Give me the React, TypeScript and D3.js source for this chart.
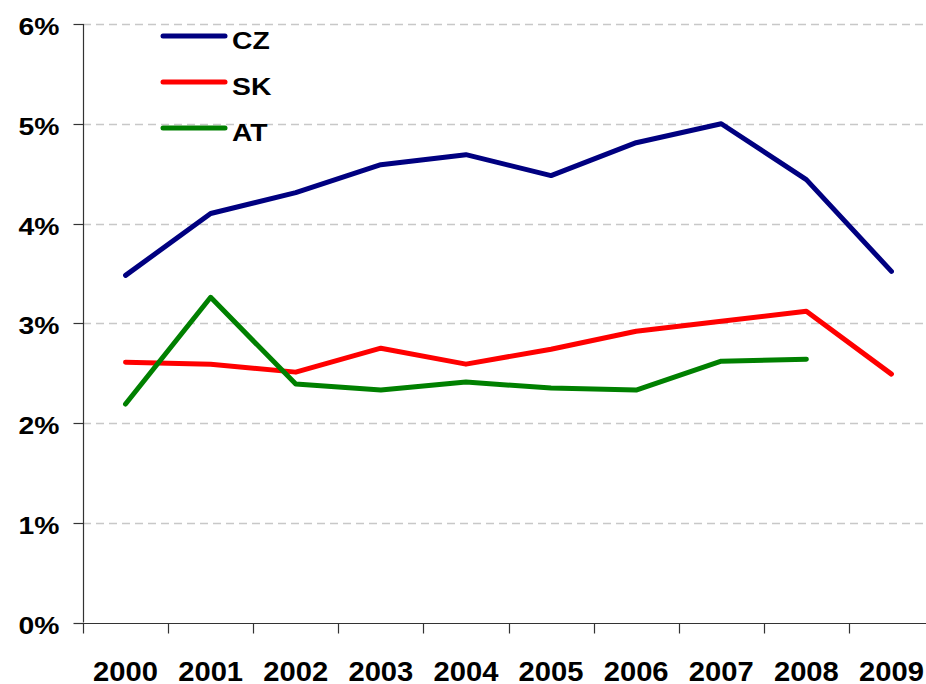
import { useEffect, useRef } from "react";
import * as d3 from "d3";

const years = ["2000", "2001", "2002", "2003", "2004", "2005", "2006", "2007", "2008", "2009"];
const czValues = [3.48, 4.1, 4.31, 4.59, 4.69, 4.48, 4.81, 5.0, 4.44, 3.52];
const skValues = [2.61, 2.59, 2.51, 2.75, 2.59, 2.74, 2.92, 3.02, 3.12, 2.49];
const atValues: (number | null)[] = [2.19, 3.26, 2.39, 2.33, 2.41, 2.35, 2.33, 2.62, 2.64, null];
const yTicks = [0, 1, 2, 3, 4, 5, 6];

const seriesList = [
  { name: "CZ", color: "#000080", values: czValues as (number | null)[] },
  { name: "SK", color: "#ff0000", values: skValues as (number | null)[] },
  { name: "AT", color: "#008000", values: atValues },
];

export default function App() {
  const svgRef = useRef<SVGSVGElement | null>(null);

  useEffect(() => {
    if (!svgRef.current) return;
    const width = 926;
    const left = 83;
    const svg = d3.select(svgRef.current);
    svg.selectAll("*").remove();

    const x = d3.scaleBand<string>().domain(years).range([left, 934]).padding(0);
    const y = d3.scaleLinear().domain([0, 6]).range([622.5, 24]);
    const font = "'Liberation Sans', Arial, sans-serif";

    // gridlines
    svg.append("g")
      .selectAll("line")
      .data(yTicks.filter((t) => t > 0))
      .join("line")
      .attr("x1", left)
      .attr("x2", width)
      .attr("y1", (d) => Math.round(y(d)) + 0.5)
      .attr("y2", (d) => Math.round(y(d)) + 0.5)
      .attr("stroke", "#c8c8c8")
      .attr("stroke-width", 1.5)
      .attr("stroke-dasharray", "8,5");

    // y axis
    const yAxis = svg.append("g").attr("transform", `translate(${left + 0.5},0)`);
    yAxis.append("line")
      .attr("y1", y(6)).attr("y2", y(0))
      .attr("stroke", "#333").attr("stroke-width", 1.2);
    yAxis.selectAll("line.tick")
      .data(yTicks)
      .join("line")
      .attr("class", "tick")
      .attr("x1", -10).attr("x2", 0)
      .attr("y1", (d) => Math.round(y(d)) + 0.5)
      .attr("y2", (d) => Math.round(y(d)) + 0.5)
      .attr("stroke", "#333").attr("stroke-width", 1.2);
    yAxis.selectAll("text")
      .data(yTicks)
      .join("text")
      .attr("transform", (d) => `translate(-24,${y(d) + 11}) scale(1.18,1)`)
      .attr("text-anchor", "end")
      .attr("font-family", font)
      .attr("font-weight", "bold")
      .attr("font-size", 24)
      .attr("fill", "#000")
      .text((d) => `${d}%`);

    // x axis
    const xAxis = svg.append("g").attr("transform", `translate(0,${Math.round(y(0)) + 0.5})`);
    xAxis.append("line")
      .attr("x1", left).attr("x2", width)
      .attr("stroke", "#333").attr("stroke-width", 1.2);
    xAxis.selectAll("line.tick")
      .data(years)
      .join("line")
      .attr("class", "tick")
      .attr("x1", (d) => Math.round(x(d)!) + 0.5)
      .attr("x2", (d) => Math.round(x(d)!) + 0.5)
      .attr("y1", 0).attr("y2", 10)
      .attr("stroke", "#333").attr("stroke-width", 1.2);
    xAxis.selectAll("text")
      .data(years)
      .join("text")
      .attr("transform", (d) => `translate(${x(d)! + x.bandwidth() / 2},57) scale(1.08,1)`)
      .attr("text-anchor", "middle")
      .attr("font-family", font)
      .attr("font-weight", "bold")
      .attr("font-size", 27)
      .attr("fill", "#000")
      .text((d) => d);

    // lines
    const line = d3.line<number | null>()
      .defined((d) => d !== null)
      .x((_, i) => x(years[i])! + x.bandwidth() / 2)
      .y((d) => y(d as number));

    svg.append("g")
      .selectAll("path")
      .data(seriesList)
      .join("path")
      .attr("fill", "none")
      .attr("stroke", (d) => d.color)
      .attr("stroke-width", 5)
      .attr("stroke-linejoin", "round")
      .attr("stroke-linecap", "round")
      .attr("d", (d) => line(d.values));

    // legend
    const legend = svg.append("g")
      .selectAll("g")
      .data(seriesList)
      .join("g")
      .attr("transform", (_, i) => `translate(163,${36 + i * 46})`);
    legend.append("line")
      .attr("x1", 0).attr("x2", 62)
      .attr("stroke", (d) => d.color)
      .attr("stroke-width", 5)
      .attr("stroke-linecap", "round");
    legend.append("text")
      .attr("transform", "translate(69,13) scale(1.18,1)")
      .attr("font-family", font)
      .attr("font-weight", "bold")
      .attr("font-size", 24)
      .attr("fill", "#000")
      .text((d) => d.name);
  }, []);

  return (
    <svg
      ref={svgRef}
      width={926}
      height={684}
      style={{ position: "absolute", left: 0, top: 0, background: "#fff" }}
    />
  );
}
